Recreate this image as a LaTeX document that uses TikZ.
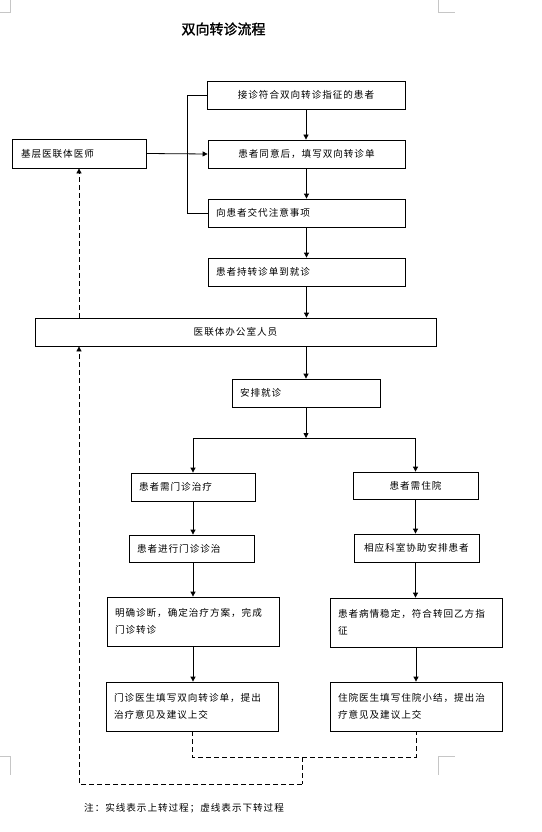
\documentclass[tikz,border=0pt]{standalone}
\usepackage{fontspec}
\usetikzlibrary{arrows.meta}
\newfontfamily\cjk{Noto Sans CJK SC}[LetterSpace=10]
\newfontfamily\cjkb{Noto Sans CJK SC}[FakeBold=1.5]
\begin{document}
\begin{tikzpicture}[x=1pt,y=-1pt,
  box/.style={draw,line width=0.8pt,inner ysep=0pt,inner xsep=8pt,minimum height=28pt,
    font=\cjk\fontsize{9.6}{17}\selectfont},
  cbox/.style={box,align=center},
  lbox/.style={box,align=left},
  arr/.style={line width=0.8pt,-{Triangle[length=5pt,width=5pt]}},
  ln/.style={line width=0.8pt},
  dsh/.style={line width=0.8pt,dash pattern=on 5pt off 3pt},
  cornermark/.style={line width=0.6pt,gray!45}]
\useasboundingbox (0,0) rectangle (541,832);
% page corner marks
\draw[cornermark] (0,12) -- (10,12) -- (10,0);
\draw[cornermark] (438,0) -- (438,12) -- (455,12);
\draw[cornermark] (0,756) -- (10,756) -- (10,775);
\draw[cornermark] (455,756) -- (438,756) -- (438,775);
% title
\node[font=\cjkb\fontsize{14}{16}\selectfont] (title) at (223.5,29) {双向转诊流程};
% boxes
\node[cbox,text width=182pt] (A) at (306,95) {接诊符合双向转诊指征的患者};
\node[cbox,text width=181pt] (B) at (306.5,154) {患者同意后，填写双向转诊单};
\node[lbox,text width=181pt] (C) at (306.5,213) {向患者交代注意事项};
\node[lbox,text width=181pt] (D) at (306.5,272) {患者持转诊单到就诊};
\node[lbox,text width=116pt,inner xsep=9pt,minimum height=29pt] (L) at (79,153.5) {基层医联体医师};
\node[cbox,text width=385pt] (O) at (235.5,332) {医联体办公室人员};
\node[lbox,text width=132pt] (P) at (306,393) {安排就诊};
\node[lbox,text width=108pt] (l1) at (193,487) {患者需门诊治疗};
\node[cbox,text width=109pt,minimum height=27pt] (r1) at (415.5,485.5) {患者需住院};
\node[lbox,text width=109pt,minimum height=27pt] (l2) at (191.5,548.5) {患者进行门诊诊治};
\node[cbox,text width=109pt] (r2) at (416.5,548) {相应科室协助安排患者};
\node[lbox,text width=156pt,minimum height=49pt] (l3) at (193,621.5) {明确诊断，确定治疗方案，完成\\门诊转诊};
\node[lbox,text width=156pt,minimum height=49pt] (r3) at (416,622.5) {患者病情稳定，符合转回乙方指\\征};
\node[lbox,text width=156pt,minimum height=49pt] (l4) at (192,706.5) {门诊医生填写双向转诊单，提出\\治疗意见及建议上交};
\node[lbox,text width=156pt,minimum height=49pt] (r4) at (416,706.5) {住院医生填写住院小结，提出治\\疗意见及建议上交};
\node[anchor=west,inner sep=0pt,font=\cjk\fontsize{9.6}{12}\selectfont] (note) at (84,808) {注：实线表示上转过程；虚线表示下转过程};
% upward (solid) connectors
\draw[ln] (A.west) -- ++(-19,0) |- (C.west);
\draw[arr] (L.east) -- (B.west);
\draw[arr] (A.south) -- (A.south |- B.north);
\draw[arr] (B.south) -- (B.south |- C.north);
\draw[arr] (C.south) -- (C.south |- D.north);
\draw[arr] (D.south) -- (D.south |- O.north);
\draw[arr] (P.north |- O.south) -- (P.north);
\coordinate (split) at (306,438);
\draw[arr] (P.south) -- (split);
\draw[ln] (l1.north |- split) -- (r1.north |- split);
\draw[arr] (l1.north |- split) -- (l1.north);
\draw[arr] (r1.north |- split) -- (r1.north);
\draw[arr] (l1.south) -- (l1.south |- l2.north);
\draw[arr] (r1.south) -- (r1.south |- r2.north);
\draw[arr] (l2.south -| l1.south) -- (l1.south |- l3.north);
\draw[arr] (r2.south -| r1.south) -- (r1.south |- r3.north);
\draw[arr] (l3.south) -- (l3.south |- l4.north);
\draw[arr] (r3.south) -- (r3.south |- r4.north);
% downward (dashed) connectors
\coordinate (j) at (302,757);
\coordinate (k) at (302,784);
\draw[dsh] (l4.south) |- (j) -| (r4.south);
\draw[dsh] (j) -- (k);
\draw[dsh,-{Triangle[length=5pt,width=5pt]}] (k) -| (L.south |- O.south);
\draw[dsh,-{Triangle[length=5pt,width=5pt]}] (L.south |- O.north) -- (L.south);
\end{tikzpicture}
\end{document}
